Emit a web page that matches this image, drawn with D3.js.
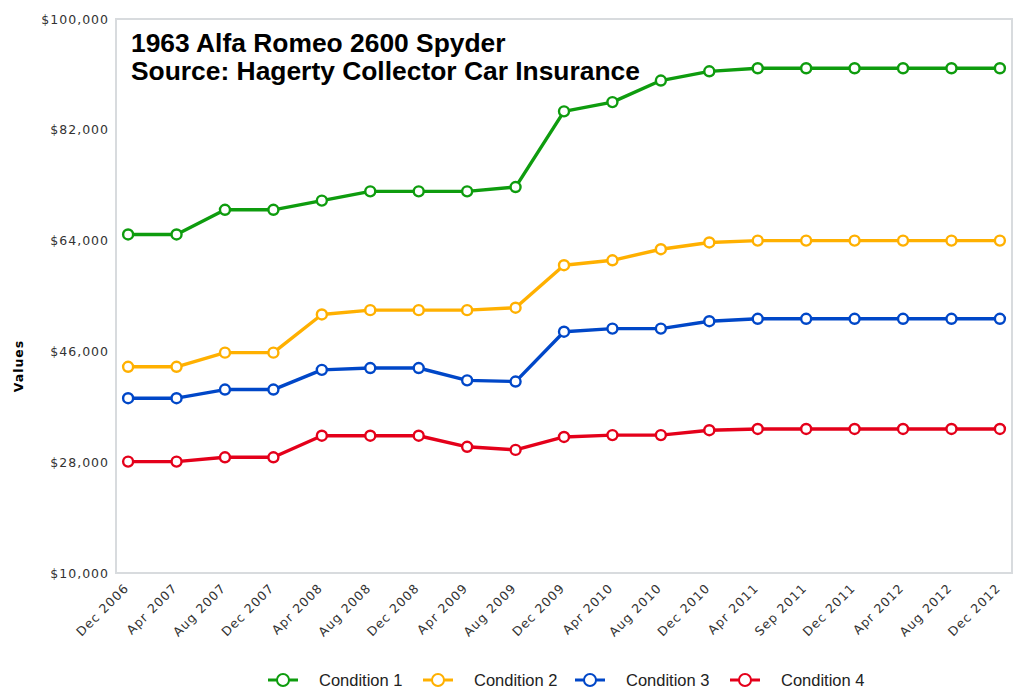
<!DOCTYPE html>
<meta charset="utf-8">
<style>
body { margin: 0; background: #fff; }
.tick text { font-family: "DejaVu Sans", Verdana, sans-serif; font-size: 12.5px; letter-spacing: 1px; fill: #333; }
.title { font-family: "Liberation Sans", Arial, sans-serif; font-weight: bold; font-size: 26.4px; fill: #000; }
.legend text { font-family: "Liberation Sans", Arial, sans-serif; font-size: 16.5px; fill: #222; }
</style>
<body>
<script src="https://cdn.jsdelivr.net/npm/d3@7"></script>
<script>

// x categories
var dates = ["Dec 2006", "Apr 2007", "Aug 2007", "Dec 2007", "Apr 2008", "Aug 2008", "Dec 2008",
  "Apr 2009", "Aug 2009", "Dec 2009", "Apr 2010", "Aug 2010", "Dec 2010", "Apr 2011",
  "Sep 2011", "Dec 2011", "Apr 2012", "Aug 2012", "Dec 2012"];

// values
var condition1 = [65000, 65000, 69000, 69000, 70500, 72000, 72000, 72000, 72700, 85000, 86500, 90000, 91500, 92000, 92000, 92000, 92000, 92000, 92000];
var condition2 = [43500, 43500, 45800, 45800, 52000, 52700, 52700, 52700, 53100, 60000, 60800, 62600, 63700, 64000, 64000, 64000, 64000, 64000, 64000];
var condition3 = [38400, 38400, 39800, 39800, 43000, 43300, 43300, 41300, 41100, 49200, 49700, 49700, 50900, 51300, 51300, 51300, 51300, 51300, 51300];
var condition4 = [28100, 28100, 28800, 28800, 32300, 32300, 32300, 30500, 30000, 32100, 32400, 32400, 33200, 33400, 33400, 33400, 33400, 33400, 33400];

var seriesNames = ["Condition 1", "Condition 2", "Condition 3", "Condition 4"];
var yTicks = [10000, 28000, 46000, 64000, 82000, 100000];

var colors = ["#0e9c0e", "#ffb000", "#0047c8", "#e4001a"];
var series = [condition1, condition2, condition3, condition4];

var width = 1019, height = 688;
var plotLeft = 116, plotRight = 1012, plotTop = 19, plotBottom = 573;

var svg = d3.select("body").append("svg")
    .attr("width", width)
    .attr("height", height);

var x = d3.scalePoint()
    .domain(dates)
    .range([plotLeft, plotRight])
    .padding(0.25);

var y = d3.scaleLinear()
    .domain([10000, 100000])
    .range([plotBottom, plotTop]);

// plot frame
svg.append("rect")
    .attr("x", plotLeft).attr("y", plotTop)
    .attr("width", plotRight - plotLeft).attr("height", plotBottom - plotTop)
    .attr("fill", "none")
    .attr("stroke", "#d8dbde")
    .attr("stroke-width", 2);

// y axis
var yAxis = svg.append("g")
    .attr("transform", "translate(" + (plotLeft - 7) + ",0)")
    .call(d3.axisLeft(y).tickValues(yTicks).tickSize(0).tickPadding(0)
      .tickFormat(function(d) { return "$" + d3.format(",")(d); }));
yAxis.select(".domain").remove();

// x axis
var xAxis = svg.append("g")
    .attr("transform", "translate(0," + plotBottom + ")")
    .call(d3.axisBottom(x).tickSize(0).tickPadding(0));
xAxis.select(".domain").remove();
xAxis.selectAll("text")
    .attr("text-anchor", "end")
    .attr("dy", 0)
    .attr("transform", "translate(1,16) rotate(-45)");

// axis title
svg.append("text")
    .attr("transform", "translate(23,366) rotate(-90)")
    .attr("text-anchor", "middle")
    .style("font-family", "'DejaVu Sans', Verdana, sans-serif")
    .style("font-size", "12.5px")
    .style("letter-spacing", "1px")
    .style("font-weight", "bold")
    .text("Values");

var line = d3.line()
    .x(function(d, i) { return x(dates[i]); })
    .y(function(d) { return y(d); });

series.forEach(function(s, k) {
  svg.append("path")
      .datum(s)
      .attr("d", line)
      .attr("fill", "none")
      .attr("stroke", colors[k])
      .attr("stroke-width", 3.4)
      .attr("stroke-linejoin", "round");
  svg.selectAll(".pt" + k)
      .data(s)
      .enter().append("circle")
      .attr("class", "pt" + k)
      .attr("cx", function(d, i) { return x(dates[i]); })
      .attr("cy", function(d) { return y(d); })
      .attr("r", 5)
      .attr("fill", "#fff")
      .attr("stroke", colors[k])
      .attr("stroke-width", 2.4);
});

// title
svg.append("text").attr("class", "title").attr("x", 131).attr("y", 52).text("1963 Alfa Romeo 2600 Spyder");
svg.append("text").attr("class", "title").attr("x", 131).attr("y", 80).text("Source: Hagerty Collector Car Insurance");

// legend
var legendX = [268, 423, 575, 730];
var legend = svg.append("g").attr("class", "legend");
seriesNames.forEach(function(name, k) {
  var g = legend.append("g").attr("transform", "translate(" + legendX[k] + ",680)");
  g.append("line").attr("x1", 0).attr("x2", 30).attr("y1", 0).attr("y2", 0)
      .attr("stroke", colors[k]).attr("stroke-width", 3);
  g.append("circle").attr("cx", 15).attr("cy", 0).attr("r", 6)
      .attr("fill", "#fff").attr("stroke", colors[k]).attr("stroke-width", 2);
  g.append("text").attr("x", 51).attr("y", 6).text(name);
});

</script>
</body>
